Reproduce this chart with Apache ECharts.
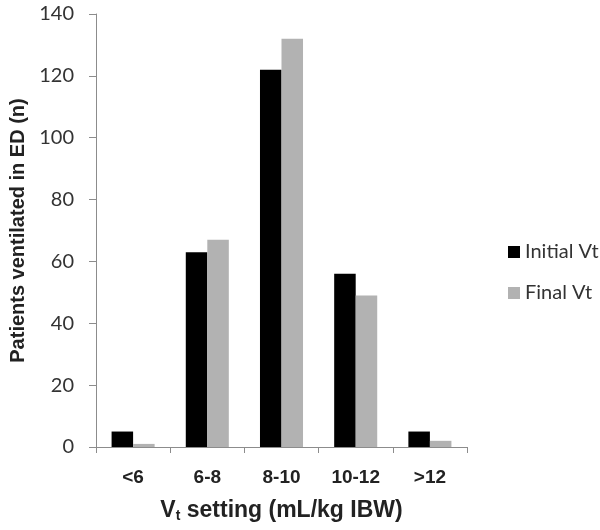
<!DOCTYPE html>
<html>
<head>
<meta charset="utf-8">
<script src="https://cdn.jsdelivr.net/npm/echarts@6/dist/echarts.min.js"></script>
<style>html,body{margin:0;padding:0;background:#fff;}#chart{width:600px;height:530px;}</style>
</head>
<body>
<div id="chart"></div>
<script>
const categories = ['<6', '6-8', '8-10', '10-12', '>12'];
const initialVt = [5, 63, 122, 56, 5];
const finalVt = [1, 67, 132, 49, 2];
const yTicks = [0, 20, 40, 60, 80, 100, 120, 140];

const chart = echarts.init(document.getElementById('chart'));
chart.setOption({
  animation: false,
  grid: { left: 96, right: 133, top: 14, bottom: 83, containLabel: false },
  legend: {
    orient: 'vertical',
    left: 503,
    top: 237,
    itemWidth: 12,
    itemHeight: 12,
    itemGap: 21,
    icon: 'rect',
    textStyle: { fontFamily: 'Lato', fontSize: 20, color: '#333' },
    data: ['Initial Vt', 'Final Vt']
  },
  xAxis: {
    type: 'category',
    data: categories,
    axisLine: { lineStyle: { color: '#8c8c8c', width: 1 } },
    axisTick: { show: true, length: 6, lineStyle: { color: '#8c8c8c' } },
    axisLabel: { fontFamily: 'Liberation Sans', fontWeight: 'bold', fontSize: 19, color: '#222', margin: 21 },
    name: '{v|V}{s|t}{v| setting (mL/kg IBW)}',
    nameLocation: 'middle',
    nameGap: 52,
    nameTextStyle: {
      rich: {
        v: { fontFamily: 'Liberation Sans', fontWeight: 'bold', fontSize: 23, color: '#222' },
        s: { fontFamily: 'Liberation Sans', fontWeight: 'bold', fontSize: 14, color: '#222', verticalAlign: 'bottom', padding: [10, 0, 0, 0] }
      }
    }
  },
  yAxis: {
    type: 'value',
    min: 0,
    max: yTicks[yTicks.length - 1],
    interval: 20,
    splitLine: { show: false },
    axisLine: { show: true, lineStyle: { color: '#8c8c8c', width: 1 } },
    axisTick: { show: true, length: 7, lineStyle: { color: '#8c8c8c' } },
    axisLabel: { fontFamily: 'Lato', fontSize: 20, color: '#333', margin: 22 },
    name: 'Patients ventilated in ED (n)',
    nameLocation: 'middle',
    nameGap: 62,
    nameTextStyle: { fontFamily: 'Liberation Sans', fontWeight: 'bold', fontSize: 20, color: '#222' }
  },
  series: [
    { name: 'Initial Vt', type: 'bar', data: initialVt, itemStyle: { color: '#000000' }, barGap: '0%', barCategoryGap: '42%' },
    { name: 'Final Vt', type: 'bar', data: finalVt, itemStyle: { color: '#b2b2b2' }, barGap: '0%', barCategoryGap: '42%' }
  ]
});
</script>
</body>
</html>
